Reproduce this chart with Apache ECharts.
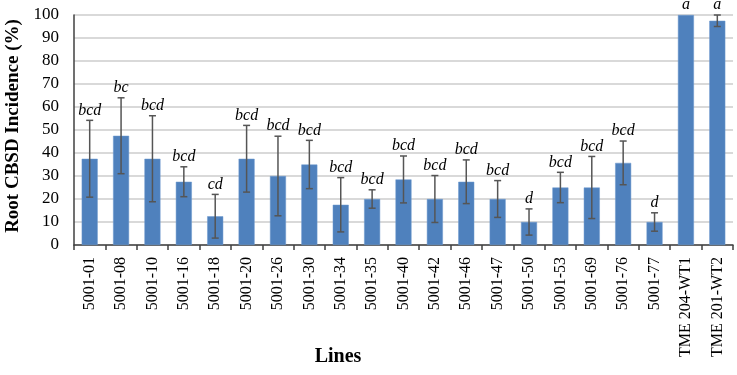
<!DOCTYPE html>
<html>
<head>
<meta charset="utf-8">
<script src="https://cdn.jsdelivr.net/npm/echarts@6/dist/echarts.min.js"></script>
<style>
  html, body { margin: 0; padding: 0; background: #fff; }
  #chart { width: 737px; height: 375px; }
</style>
</head>
<body>
<div id="chart"></div>
<script>
// data
const lines = ['5001-01', '5001-08', '5001-10', '5001-16', '5001-18', '5001-20', '5001-26',
  '5001-30', '5001-34', '5001-35', '5001-40', '5001-42', '5001-46', '5001-47', '5001-50',
  '5001-53', '5001-69', '5001-76', '5001-77', 'TME 204-WT1', 'TME 201-WT2'];
const incidence = [37.5, 47.5, 37.5, 27.5, 12.5, 37.5, 30, 35, 17.5, 20, 28.5, 20, 27.5, 20,
  10, 25, 25, 35.7, 10, 100, 97.5];
const errors = [16.7, 16.5, 18.7, 6.5, 9.5, 14.5, 17.3, 10.5, 11.8, 4, 10.2, 10.2, 9.5, 8,
  5.7, 6.6, 13.5, 9.5, 4, 0, 2.5];
const groups = ['bcd', 'bc', 'bcd', 'bcd', 'cd', 'bcd', 'bcd', 'bcd', 'bcd', 'bcd', 'bcd',
  'bcd', 'bcd', 'bcd', 'd', 'bcd', 'bcd', 'bcd', 'd', 'a', 'a'];
const yTicks = [0, 100, 10];

const serif = '"Liberation Serif", "DejaVu Serif", serif';

var dom = document.getElementById('chart');
var myChart = echarts.init(dom, null, { renderer: 'canvas' });

var errData = lines.map(function (c, i) { return [i, incidence[i], errors[i], groups[i]]; });

var option = {
  backgroundColor: '#ffffff',
  animation: false,
  grid: { left: 74, right: 4, top: 15, bottom: 130 },
  xAxis: {
    type: 'category',
    data: lines,
    axisLine: { lineStyle: { color: '#404040', width: 1.5 } },
    axisTick: { show: true, length: 5, lineStyle: { color: '#404040', width: 1.5 } },
    axisLabel: {
      rotate: 90,
      interval: 0,
      margin: 12,
      fontFamily: serif,
      fontSize: 16,
      color: '#000'
    }
  },
  yAxis: {
    type: 'value',
    min: yTicks[0],
    max: yTicks[1],
    interval: yTicks[2],
    axisLine: { show: true, lineStyle: { color: '#404040', width: 1.5 } },
    axisTick: { show: false },
    axisLabel: { fontFamily: serif, fontSize: 17, color: '#000', margin: 15 },
    splitLine: { lineStyle: { color: '#d9d9d9', width: 2 } }
  },
  graphic: [
    {
      type: 'text',
      x: 13, y: 126,
      rotation: Math.PI / 2,
      style: {
        text: 'Root CBSD Incidence (%)',
        fontFamily: serif, fontWeight: 'bold', fontSize: 19,
        fill: '#000', align: 'center', verticalAlign: 'middle'
      }
    },
    {
      type: 'text',
      x: 338, y: 357,
      style: {
        text: 'Lines',
        fontFamily: serif, fontWeight: 'bold', fontSize: 20,
        fill: '#000', align: 'center', verticalAlign: 'middle'
      }
    }
  ],
  series: [
    {
      name: 'incidence',
      type: 'bar',
      data: incidence,
      barWidth: 16,
      itemStyle: { color: '#4f81bd', borderColor: '#6c98cf', borderWidth: 0.5 }
    },
    {
      name: 'error',
      type: 'custom',
      data: errData,
      z: 5,
      renderItem: function (params, api) {
        var x = api.value(0), v = api.value(1), e = api.value(2);
        var top = api.coord([x, v + e]);
        var bot = api.coord([x, v - e]);
        var cap = 3.5;
        var lineStyle = { stroke: '#555555', lineWidth: 1.5 };
        var children = [];
        if (e > 0) {
          children.push(
            { type: 'line', shape: { x1: top[0], y1: top[1], x2: bot[0], y2: bot[1] }, style: lineStyle },
            { type: 'line', shape: { x1: top[0] - cap, y1: top[1], x2: top[0] + cap, y2: top[1] }, style: lineStyle },
            { type: 'line', shape: { x1: bot[0] - cap, y1: bot[1], x2: bot[0] + cap, y2: bot[1] }, style: lineStyle }
          );
        }
        children.push({
          type: 'text',
          x: top[0], y: top[1] - 2,
          style: {
            text: api.value(3),
            fontFamily: serif, fontStyle: 'italic', fontSize: 16,
            fill: '#000', align: 'center', verticalAlign: 'bottom'
          }
        });
        return { type: 'group', children: children };
      }
    }
  ]
};

if (option && typeof option === 'object') {
  myChart.setOption(option);
}

window.addEventListener('resize', myChart.resize);
</script>
</body>
</html>
